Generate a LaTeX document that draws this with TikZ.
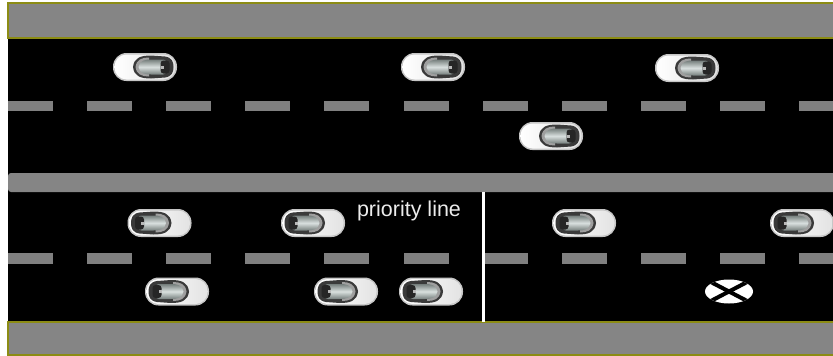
\documentclass[tikz,border=0pt]{standalone}
\usepackage{fontspec}
\setmainfont{Liberation Sans}
\begin{document}
\definecolor{shoulder}{HTML}{858585}
\definecolor{lanemark}{HTML}{808080}
\definecolor{kerbline}{HTML}{8C8C14}
\definecolor{cabin}{HTML}{3A3A3A}
\definecolor{glass}{HTML}{B4C2BF}
\definecolor{rearglass}{HTML}{262626}
\tikzset{
  shoulderband/.style={fill=shoulder, draw=kerbline, line width=1.2pt},
  lanedash/.style={fill=lanemark},
  prioline/.style={draw=white, line width=2.8pt},
  car/.pic={
    % body shell with soft rim
    \fill[gray!45, rounded corners=13.5pt] (-32,-14) rectangle (32,14);
    \shade[left color=white, right color=gray!22, rounded corners=12pt]
      (-30.5,-12.5) rectangle (30.5,12.5);
    % cockpit frame
    \fill[cabin] (-12,0) .. controls (-11,-9.5) and (-4,-11.5) .. (6,-11.5)
      -- (20,-10.5) .. controls (27,-9.5) and (28.5,-5) .. (28.5,0)
      .. controls (28.5,5) and (27,9.5) .. (20,10.5)
      -- (6,11.5) .. controls (-4,11.5) and (-11,9.5) .. (-12,0) -- cycle;
    \fill[gray!75] (-9.5,0) .. controls (-8.5,-7.5) and (-3,-9.5) .. (4,-9.5)
      -- (4,9.5) .. controls (-3,9.5) and (-8.5,7.5) .. (-9.5,0) -- cycle;
    % glass
    \shade[top color=glass!65!black, bottom color=glass!65!black, middle color=glass!50!white]
      (-6.5,0) .. controls (-5.5,-6.5) and (0,-7.5) .. (6,-7.5)
      -- (18,-7.5) .. controls (21,-7.5) and (22.5,-4) .. (22.5,0)
      .. controls (22.5,4) and (21,7.5) .. (18,7.5)
      -- (6,7.5) .. controls (0,7.5) and (-5.5,6.5) .. (-6.5,0) -- cycle;
    \fill[rearglass, rounded corners=3pt] (15.5,-6.5) rectangle (24.5,6.5);
    \fill[gray!55] (15.5,-1.5) rectangle (18.5,1.5);
  }
}
\begin{tikzpicture}[x=1pt, y=-1pt]
  \useasboundingbox (0,0) rectangle (833,356);
  \begin{scope}
    \clip (0,0) rectangle (833,356);
    % roadway surface
    \fill[black] (8,38) rectangle (840,322);
    % outer shoulders
    \path[shoulderband] (8,3) rectangle (845,38);
    \path[shoulderband] (8,322) rectangle (845,355);
    % central median
    \fill[shoulder, rounded corners=3pt] (8,173) rectangle (845,192);
    % lane markings
    \foreach \i in {0,...,10} {
      \fill[lanedash] ({8+79.1*\i},101) rectangle ++(45,10);
      \fill[lanedash] ({8+79.1*\i},253) rectangle ++(45,10.5);
    }
  \end{scope}
  % priority line across the lower carriageway
  \coordinate (pl-top) at (483.5,192);
  \coordinate (pl-bot) at (483.5,322);
  \draw[prioline] (pl-top) -- (pl-bot);
  \node[text=gray!15, font=\fontsize{21.5}{24}\selectfont, anchor=base]
    (prio) at (409,216) {priority line};
  % upper carriageway traffic
  \pic (t1) at (145,67) {car};
  \pic (t2) at (433,67) {car};
  \pic (t3) at (687,68) {car};
  \pic (t4) at (551,136) {car};
  % lower carriageway traffic
  \pic[xscale=-1] (b1) at (159.5,223) {car};
  \pic[xscale=-1] (b2) at (313,223) {car};
  \pic[xscale=-1] (b3) at (584,223) {car};
  \pic[xscale=-1] (b4) at (802,223) {car};
  \pic[xscale=-1] (b5) at (177,291.5) {car};
  \pic[xscale=-1] (b6) at (346,291.5) {car};
  \pic[xscale=-1] (b7) at (431,291.5) {car};
  % blocked spot marker
  \begin{scope}
    \fill[white] (729,291.5) ellipse (24 and 12);
    \clip (729,291.5) ellipse (24 and 12);
    \draw[black, line width=4pt] (707,280) -- (751,303);
    \draw[black, line width=4pt] (707,303) -- (751,280);
  \end{scope}
\end{tikzpicture}
\end{document}
